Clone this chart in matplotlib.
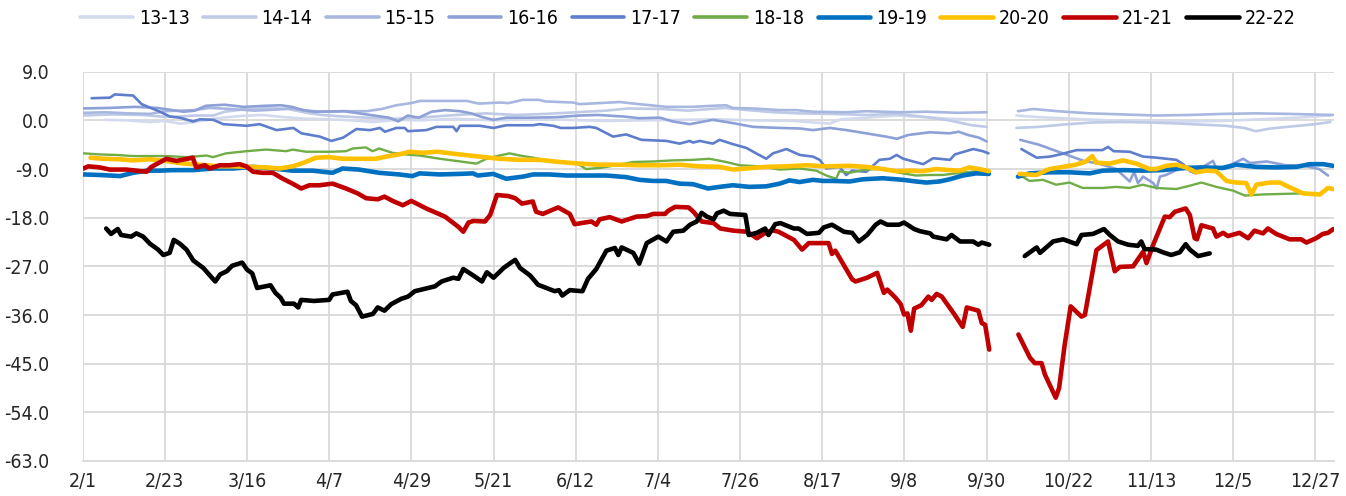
import datetime
import numpy as np
import matplotlib
matplotlib.use("Agg")
import matplotlib.pyplot as plt

gap = np.nan

# x values are days counted from 2/1
days_13 = [6, 12, 18, 22, 26, 30, 36, 42, 48, 54, 60, 66, 72, 78, 84, 90, 100, 110, 120, 130, 140, 150, 160, 170, 180, 190, 200, 203, 210, 218, 225, 232, 242,
           246, 250, 256, 265, 275, 285, 295, 305, 315, 325, 334]
vals_13 = [0.1, 0.0, -0.3, -0.1, -0.6, -0.3, 0.4, 0.8, 1.0, 0.6, 0.3, 0.2, 0.0, -0.3, 0.1, 0.0, 0.3, 0.0, 0.2, 0.1, -0.1, 0.0, 0.1, 0.2, 0.0, -0.1, -0.6, 0.2, 0.5, 0.9, 0.6, 0.3, 0.1,
           gap, 0.9, 0.6, 0.3, 0.0, -0.1, -0.2, -0.1, 0.2, 0.5, 0.9]

days_14 = [0, 8, 16, 21, 26, 30, 35, 38, 44, 50, 55, 60, 64, 70, 76, 84, 92, 100, 108, 116, 124, 132, 140, 146, 155, 162, 168, 172, 178, 185, 192, 200, 210, 218, 226, 232, 238, 242,
           246, 250, 256, 262, 270, 278, 286, 294, 300, 306, 311, 314, 318, 324, 330, 334]
vals_14 = [0.9, 1.1, 1.0, 0.7, 0.7, 0.9, 0.9, 1.6, 2.1, 2.3, 2.1, 1.4, 1.0, 0.7, 0.5, 0.3, 0.6, 1.0, 1.3, 1.0, 1.2, 1.5, 1.8, 2.2, 2.1, 1.8, 2.1, 2.3, 1.9, 1.5, 1.3, 1.2, 1.0, 1.2, 0.6, 0.0, -0.9, -1.2,
           gap, -1.4, -1.2, -0.8, -0.4, -0.3, -0.4, -0.6, -0.8, -1.0, -1.4, -2.0, -1.5, -1.1, -0.7, -0.3]

days_15 = [0, 6, 12, 18, 22, 26, 30, 34, 40, 46, 52, 56, 60, 64, 70, 76, 80, 84, 88, 90.3, 96, 102.8, 106, 111.7, 114, 117.9, 122, 124, 131.3, 133, 138.4, 143.7, 149, 156.3, 163,
           168.7, 172.3, 174, 179.5, 186.6, 191, 195.5, 204.4, 209.8, 218.7, 226, 234, 242,
           246, 250.4, 254.5, 261, 269.6, 278.5, 287.5, 296.4, 305.3, 314, 323, 334.7]
vals_15 = [1.4, 1.5, 1.3, 1.2, 1.7, 1.8, 1.9, 2.3, 2.1, 1.8, 2.0, 2.2, 1.8, 1.6, 1.7, 1.7, 2.1, 2.8, 3.2, 3.6, 3.6, 3.6, 3.1, 3.3, 3.2, 3.8, 3.8, 3.5, 3.3, 3.0, 3.2, 3.4, 3.0, 2.5, 2.5,
           2.7, 2.8, 2.3, 2.2, 1.9, 1.9, 1.6, 1.5, 1.7, 1.5, 1.6, 1.4, 1.5,
           gap, 1.7, 2.1, 1.7, 1.3, 1.1, 0.9, 1.0, 1.2, 1.3, 1.2, 1.0]

days_16 = [0, 7, 14, 20, 24, 27, 30, 33, 38, 43, 49, 53, 56, 59, 62, 70, 74, 78, 82, 84.5, 87, 90, 93.4, 97, 101, 104, 107, 110, 113.4, 120, 127, 133, 138, 145, 149, 154.5,
           158, 162.5, 168.7, 174, 179.5, 186.6, 192, 195.5, 200, 204.5, 209.8, 215, 218, 221, 226.8, 232, 234.5, 237, 240, 242,
           246, 251, 256, 260, 264, 268, 272, 276.7, 280.3, 281.5, 282.5, 283.9, 286.6, 287.5, 288.4, 290, 292.8, 296.4, 299.9, 302.6, 303.5, 307, 310.7,
           312.5, 317, 322, 327, 331, 333.4]
vals_16 = [2.2, 2.3, 2.5, 2.3, 1.9, 1.6, 1.8, 2.7, 2.9, 2.5, 2.7, 2.8, 2.5, 1.9, 1.6, 1.7, 1.3, 0.9, 0.5, -0.2, 0.9, 0.5, 1.6, 1.9, 1.7, 1.3, 0.6, 0.1, 0.5, 0.5, 0.6, 0.9, 1.0, 0.7, 0.4, 0.5,
           -0.2, -0.7, 0.1, -0.5, -1.2, -1.4, -1.5, -1.8, -1.4, -1.8, -2.4, -3.0, -3.4, -2.7, -2.2, -2.4, -2.1, -2.7, -3.2, -3.9,
           gap, -3.6, -4.5, -5.5, -6.5, -7.5, -8.0, -9.0, -11.3, -9.5, -11.6, -10.4, -11.6, -12.6, -10.4, -10.1, -9.2, -8.9, -8.6, -7.5, -8.9, -8.3, -7.1,
           -7.9, -7.6, -8.3, -8.4, -9.0, -10.2]

days_17 = [2.4, 7.3, 8.6, 13.5, 15.8, 20.7, 23.4, 26, 29.6, 31.4, 35, 37.6, 43.9, 47.4, 51.9, 56.4, 58.6, 63.5, 66.6, 69.7, 73.3, 76.9, 79.6, 80.9, 84, 86.2, 87.1, 92,
           94.7, 99.2, 100.1, 101, 106.3, 110, 113.4, 120.6, 122.3, 126, 128, 131.3, 135.7, 137.5, 142, 145.5, 149.6, 156.3, 159.8, 162.5, 163.4, 165.2, 168.7, 170.5,
           174.1, 177.7, 180.3, 183, 184.8, 188.4, 192, 195.5, 197.3, 199.1, 202.6, 204.4, 206, 209.8, 213.3, 216.1, 217.9, 219.7, 225, 227.7, 232.2, 233.5, 238.4, 241, 242.5,
           246, 251.3, 255.4, 259, 261.6, 266.1, 273, 274.5, 276, 280.3, 283.9, 287.5, 292.8, 294.6, 296.5, 298]
vals_17 = [4.1, 4.2, 4.8, 4.6, 3.0, 1.6, 0.7, 0.5, -0.2, 0.2, 0.1, -0.7, -1.0, -0.7, -1.8, -1.4, -2.4, -3.0, -3.8, -3.2, -1.6, -1.8, -1.4, -2.1, -1.4, -1.4, -2.0, -1.8,
           -1.2, -1.2, -2.0, -1.0, -1.0, -1.4, -0.9, -0.9, -0.7, -1.0, -1.4, -1.4, -1.2, -1.4, -3.0, -2.6, -3.6, -3.8, -4.3, -3.8, -4.1, -3.8, -4.3, -3.6,
           -4.4, -5.1, -6.1, -7.1, -6.1, -5.3, -6.4, -6.7, -7.3, -8.9, -8.6, -10.1, -9.3, -9.5, -7.3, -7.1, -6.4, -7.1, -8.1, -7.0, -7.3, -6.3, -5.3, -5.7, -6.1,
           gap, -5.3, -6.9, -6.7, -6.3, -5.5, -5.5, -4.9, -5.7, -5.8, -6.7, -6.9, -7.3, -8.1, -9.4, -9.8]

days_18 = [0.2, 4.6, 9.1, 13.5, 18, 22.4, 27.8, 33.1, 34.9, 38.4, 43.8, 49.1, 54.5, 56.2, 59.8, 66.9, 70.5, 72.3, 75.8, 77.6, 79.4, 82.9, 86.5, 90.2, 95.6, 100, 105.4,
           108.1, 111.6, 114.3, 117, 120.6, 124.1, 127.7, 132.2, 134.8, 138.4, 142.9, 147.3, 152.7, 158, 163.4, 167.8, 172.3, 175.9, 181.2, 186.6, 191.9, 196.4,
           199.1, 201.7, 202.6, 205.3, 208.8, 212.4, 216, 219.6, 223.1, 226.7, 230.3, 233.8, 239.2, 242.6,
           246, 250.8, 253.5, 257.1, 260.6, 264.2, 267.7, 273.1, 276.6, 280.2, 283.8, 287.4, 292.8, 296.3, 299.5, 303.5, 308, 311.1, 316, 321.4, 326.7]
vals_18 = [-6.1, -6.3, -6.4, -6.6, -6.6, -6.6, -6.8, -6.5, -6.8, -6.1, -5.7, -5.4, -5.7, -5.4, -5.8, -5.8, -5.7, -5.2, -5.0, -5.7, -5.2, -6.0, -6.3, -6.5, -7.1, -7.5, -8.0,
           -7.1, -6.5, -6.1, -6.5, -6.9, -7.4, -7.6, -7.9, -9.0, -8.8, -8.3, -7.7, -7.6, -7.4, -7.3, -7.1, -7.7, -8.3, -8.5, -9.1, -8.9, -9.3,
           -10.2, -10.8, -9.4, -9.7, -9.2, -9.0, -9.3, -9.8, -10.2, -10.1, -10.1, -9.8, -9.4, -9.6,
           gap, -10.1, -11.2, -11.0, -11.9, -11.5, -12.5, -12.5, -12.3, -12.5, -11.9, -12.5, -12.7, -12.1, -11.5, -12.3, -13.0, -13.9, -13.7, -13.6, -13.5]

days_19 = [0.2, 4.6, 10, 13.5, 17.1, 20.6, 24.2, 29.5, 34.9, 40.2, 45.6, 50.9, 56.2, 61.6, 66.9, 69.6, 74, 79.4, 84.7, 88.3, 90.2, 95.6, 100.9, 104.5, 105.8, 109.9,
           113.4, 117.9, 120.6, 125, 129.5, 134.8, 140.2, 145.5, 149.1, 152.7, 156.2, 159.8, 163.4, 167.4, 170.5, 174.1, 178.5, 183, 186.6, 189.2, 191.9, 195.5,
           198.2, 200.8, 205.3, 208.8, 214.2, 219.6, 223.1, 225.8, 229.4, 232.1, 235.6, 239.2, 242.6,
           246, 250.4, 253.5, 258.8, 264.2, 269.6, 273.1, 278.5, 283.8, 289.2, 294.6, 299.9, 305.3, 308.8, 314.2, 319.6, 324.9, 328.5, 332.1, 334.7]
vals_19 = [-10.0, -10.1, -10.3, -9.7, -9.3, -9.3, -9.2, -9.2, -8.9, -8.9, -8.6, -8.9, -9.3, -9.3, -9.7, -8.9, -9.1, -9.7, -10.0, -10.3, -9.8, -10.0, -9.9, -9.8, -10.2, -9.9,
           -10.8, -10.4, -10.0, -10.0, -10.2, -10.2, -10.2, -10.5, -11.0, -11.2, -11.2, -11.7, -11.8, -12.6, -12.3, -12.0, -12.3, -12.2, -11.7, -11.1, -11.4, -11.0,
           -11.2, -11.2, -11.3, -10.9, -10.7, -11.0, -11.3, -11.5, -11.3, -10.9, -10.2, -9.8, -9.9,
           gap, -10.4, -9.8, -9.6, -9.6, -9.8, -9.3, -9.2, -9.3, -9.2, -8.8, -8.7, -8.8, -8.2, -8.6, -8.7, -8.6, -8.1, -8.1, -8.4]

days_20 = [2.1, 5.5, 10, 13.5, 18, 22.4, 26, 29.5, 33.1, 36.7, 40.2, 44.7, 49.1, 52.7, 56.2, 58.9, 62.5, 66, 69.6, 74, 78.5, 82, 84.7, 87.5, 91, 95, 100.9, 106.3,
           111.6, 117, 122.3, 127.7, 133, 138.4, 143.7, 149.1, 154.5, 159.8, 165.2, 170.5, 174.1, 177.6, 183, 188.4, 193.7, 199.1, 205.3, 209.7, 214.2, 217.8,
           221.3, 224.9, 228.5, 232.1, 234.7, 237.4, 240.1, 242.6,
           246, 250.8, 255.3, 258.8, 262.4, 265.9, 268.6, 270.3, 271.3, 274.9, 278.5, 282.1, 285.6, 287.4, 290.1, 292.8, 295.4, 298.1, 300.8, 303.5, 306.2, 308.8,
           311.5, 312.9, 314.2, 317.8, 320.5, 323.2, 326.7, 331.2, 333.4, 334.7]
vals_20 = [-6.9, -7.1, -7.2, -7.4, -7.2, -7.5, -7.9, -8.1, -8.3, -8.5, -8.5, -8.6, -8.7, -8.9, -8.5, -7.9, -6.9, -6.8, -7.1, -7.1, -7.1, -6.6, -6.3, -5.8, -6.0, -5.8, -6.3, -6.7,
           -7.1, -7.3, -7.3, -7.7, -8.0, -8.2, -8.2, -8.3, -8.3, -8.2, -8.5, -8.6, -9.1, -8.9, -8.6, -8.5, -8.3, -8.5, -8.4, -8.6, -9.0, -9.4,
           -9.3, -9.4, -9.0, -9.2, -9.3, -8.7, -9.0, -9.4,
           gap, -9.9, -10.1, -9.0, -8.6, -8.2, -7.6, -6.6, -7.8, -8.0, -7.4, -8.0, -9.0, -9.0, -8.4, -8.2, -8.7, -9.6, -9.3, -9.4, -11.2, -11.5,
           -11.6, -13.7, -11.9, -11.5, -11.5, -12.4, -13.5, -13.7, -12.5, -12.7]

days_21 = [0.2, 1.5, 4.6, 7.3, 11.7, 17.1, 18.4, 22.4, 25.1, 29.5, 30.4, 32.7, 34, 36.7, 39.3, 42, 43.8, 45.6, 48.2, 50.9, 53.6, 56.2, 58.5, 60.7, 63.4, 66.9,
           70.5, 73.6, 75.9, 79, 80.8, 83, 85.7, 88, 92, 97, 100.6, 101.9, 103.3, 104.6, 107.7, 109.1, 110.9, 114, 115.8, 117.6, 120.5, 121.4, 123.2, 127.3,
           130.4, 131.7, 136.2, 137.5, 138.4, 141.1, 144.3, 148.3, 151, 152.8, 155.9, 156.8, 158.6, 162.2, 163.5, 165.7, 168.9, 170.7, 174.3, 177.9, 180.5,
           182.3, 184.5, 186.3, 190.4, 192.6, 194.4, 199.7, 200.6, 201.5, 206, 206.9, 210, 212.7, 214.5, 215.4, 217.6, 219, 219.9, 220.8, 221.7, 222.6,
           224.5, 226.4, 227.3, 228.6, 230, 233.1, 235.6, 236.7, 239.8, 240.7, 241.6, 242.7,
           246, 250.5, 253.6, 254.9, 256.7, 257.6, 260.5, 261.4, 262.9, 264.5, 267.4, 268.3, 271.4, 274.5, 276.3, 277.7, 281.2, 283.9, 284.8, 286.6, 289.7,
           291, 292.4, 295.3, 296.4, 297.7, 298.3, 299.5, 302.6, 303.5, 305.3, 306.6, 309.7, 312, 313.7, 316, 317.3, 319.5, 323.1, 326.2, 327.6, 330.2, 332,
           333.4, 334.8]
vals_21 = [-8.9, -8.5, -8.7, -9.1, -9.1, -9.5, -8.6, -7.1, -7.5, -6.9, -8.7, -8.3, -8.9, -8.3, -8.3, -8.1, -8.5, -9.5, -9.7, -9.7, -10.8, -11.7, -12.6, -12.0, -12.0, -11.7,
           -12.6, -13.5, -14.4, -14.6, -14.1, -14.9, -15.7, -14.9, -16.3, -17.8, -19.7, -20.6, -18.9, -18.6, -18.7, -17.5, -13.8, -14.0, -14.4, -15.4, -15.0, -16.9, -17.3, -16.1,
           -17.3, -19.2, -18.7, -19.3, -18.3, -17.9, -18.7, -17.8, -17.7, -17.3, -17.3, -16.7, -16.0, -16.1, -16.9, -18.7, -19.0, -20.0, -20.4, -20.6, -21.8,
           -21.0, -20.3, -20.6, -22.1, -23.9, -22.7, -22.7, -24.7, -24.1, -29.4, -29.8, -29.1, -28.2, -31.9, -31.3, -32.8, -34.0, -35.9, -35.7, -38.9, -34.8,
           -34.2, -32.6, -33.2, -32.1, -32.6, -35.6, -38.2, -34.6, -35.2, -37.5, -37.8, -42.4,
           gap, -39.6, -43.9, -44.9, -44.9, -47.0, -51.3, -49.5, -41.5, -34.4, -36.3, -36.0, -24.0, -22.4, -27.9, -27.1, -27.0, -24.3, -26.4, -23.0, -17.8,
           -17.9, -16.9, -16.3, -17.5, -21.8, -22.0, -19.4, -20.0, -21.5, -20.8, -21.4, -20.8, -21.8, -20.4, -20.9, -20.0, -21.0, -22.0, -22.0, -22.6, -21.8, -21.0,
           -20.8, -20.1]

days_22 = [6.3, 7.6, 9.4, 10.3, 13, 14.4, 16.2, 18, 20.2, 21.6, 23.3, 24.4, 26, 27.8, 29.6, 32.3, 34.1, 35.5, 36.8, 38.6, 40, 42.7, 44, 45.4, 46.7, 50.3, 51.6,
           53, 53.9, 56.6, 57.7, 58.5, 61.9, 66, 66.9, 70.9, 71.8, 73.2, 74.8, 77.7, 79, 80.8, 82.6, 85.3, 87.1, 88.9, 94.3, 96.1, 99.2, 100.6, 101.9, 104.6,
           106.9, 108.2, 110, 112.7, 114.5, 115.8, 117.1, 119.8, 121.9, 126.4, 127.5, 128.4, 130.4, 133.8, 135.3, 137.5, 140.2, 142.5, 143.4, 144.3, 147.4, 149,
           151, 154.1, 156.3, 158.1, 160.8, 162.6, 164.4, 165.7, 167.1, 168.9, 169.8, 171.6, 173.3, 177.4, 178.3, 180.5, 182.7, 183.6, 185.4, 186.8, 190.4,
           191.7, 193.9, 197.1, 198.4, 200.6, 203.8, 206, 207.8, 210, 212.3, 213.6, 215.4, 218.5, 219.9, 222.6, 224.2, 226.9, 227.7, 231.3, 232.6, 234.9, 238.4,
           239.8, 240.7, 242.7,
           246, 252.2, 255.4, 256.3, 259.8, 262.5, 266.1, 267.4, 270.5, 273.4, 275, 277.2, 279.9, 282.5, 283.4, 284.3, 287.4, 289.2, 291.4, 293.7, 295.3, 296.4,
           298.6, 301.7]
vals_22 = [-20.0, -21.0, -20.1, -21.2, -21.5, -20.9, -21.5, -22.8, -23.9, -24.9, -24.5, -22.1, -22.8, -23.9, -25.9, -27.3, -28.7, -29.8, -28.5, -27.9, -26.9, -26.3, -27.6, -28.3, -31.0, -30.5, -31.9,
           -32.8, -33.9, -33.9, -34.6, -33.2, -33.4, -33.2, -32.2, -31.7, -33.4, -34.2, -36.3, -35.8, -34.6, -35.2, -34.0, -33.0, -32.6, -31.6, -30.7, -29.8, -29.1, -29.3, -27.5, -28.7,
           -29.8, -28.1, -29.1, -27.3, -26.4, -25.8, -27.3, -28.7, -30.4, -31.6, -31.4, -32.4, -31.4, -31.6, -29.3, -27.5, -24.1, -23.6, -24.9, -23.5, -24.5, -26.5,
           -22.7, -21.5, -22.4, -20.6, -20.4, -19.3, -18.7, -17.1, -17.8, -18.3, -17.2, -16.7, -17.3, -17.5, -21.2, -20.8, -20.0, -21.2, -19.2, -19.0, -20.0,
           -20.0, -21.0, -20.8, -19.8, -19.3, -20.6, -20.8, -22.4, -21.2, -19.3, -18.7, -19.3, -19.3, -18.9, -20.1, -20.5, -20.9, -21.5, -22.0, -21.2, -22.4, -22.4,
           -23.0, -22.6, -23.0,
           gap, -25.1, -23.5, -24.5, -22.4, -22.0, -22.9, -21.2, -21.0, -20.1, -21.2, -22.4, -23.0, -23.2, -22.4, -23.8, -23.9, -24.4, -24.9, -24.4, -22.9, -23.9,
           -25.1, -24.6]

labels = ["13-13", "14-14", "15-15", "16-16", "17-17", "18-18", "19-19", "20-20", "21-21", "22-22"]
colors = ["#D3DAEE", "#BFCAE6", "#A8B7DF", "#8DA1D7", "#5E7ECB", "#70AD47", "#0070C0", "#FFC000", "#C00000", "#000000"]
widths = [1.9, 1.9, 1.9, 1.9, 1.9, 1.7, 3.3, 3.3, 3.3, 3.3]

all_days = [days_13, days_14, days_15, days_16, days_17, days_18, days_19, days_20, days_21, days_22]
all_vals = [vals_13, vals_14, vals_15, vals_16, vals_17, vals_18, vals_19, vals_20, vals_21, vals_22]

start = datetime.date(2020, 2, 1)
tick_days = list(range(0, 331, 22))
tick_labels = []
for d in tick_days:
	t = start + datetime.timedelta(days=d)
	tick_labels.append(str(t.month) + "/" + str(t.day))

plt.rcParams['font.family'] = ['DejaVu Sans']
plt.rcParams['font.stretch'] = 'condensed'

fig = plt.figure(figsize=(13.46, 4.96), dpi=100)
ax = fig.add_axes([0.0614, 0.0706, 0.9297, 0.7848])

for i in range(len(labels)):
	ax.plot(all_days[i], all_vals[i], color=colors[i], linewidth=widths[i], label=labels[i],
			solid_joinstyle='round', solid_capstyle='round')

ax.set_xlim(0, 335)
ax.set_ylim(-63, 9)
ax.set_yticks(np.arange(-63, 10, 9))
ax.set_yticklabels(["%.1f" % v for v in np.arange(-63, 10, 9)])
ax.set_xticks(tick_days)
ax.set_xticklabels(tick_labels)

ax.grid(True, color="#D9D9D9", linewidth=1.3)
ax.set_axisbelow(True)
for s in ["top", "right", "left"]:
	ax.spines[s].set_visible(False)
ax.spines["bottom"].set_color("#D9D9D9")
ax.spines["bottom"].set_linewidth(1.3)
ax.tick_params(axis="both", length=0, labelsize=14, colors="#262626")
ax.tick_params(axis="y", pad=24)
ax.tick_params(axis="x", pad=8)

leg = fig.legend(loc="center", bbox_to_anchor=(0.511, 0.963), ncol=10, frameon=False, fontsize=14,
		   handlelength=2.7, handletextpad=0.3, columnspacing=0.7)
for line in leg.get_lines()[:6]:
	line.set_linewidth(2.6)  # legend keys look a bit heavier than the plotted lines

plt.savefig("out.png", dpi=100)
